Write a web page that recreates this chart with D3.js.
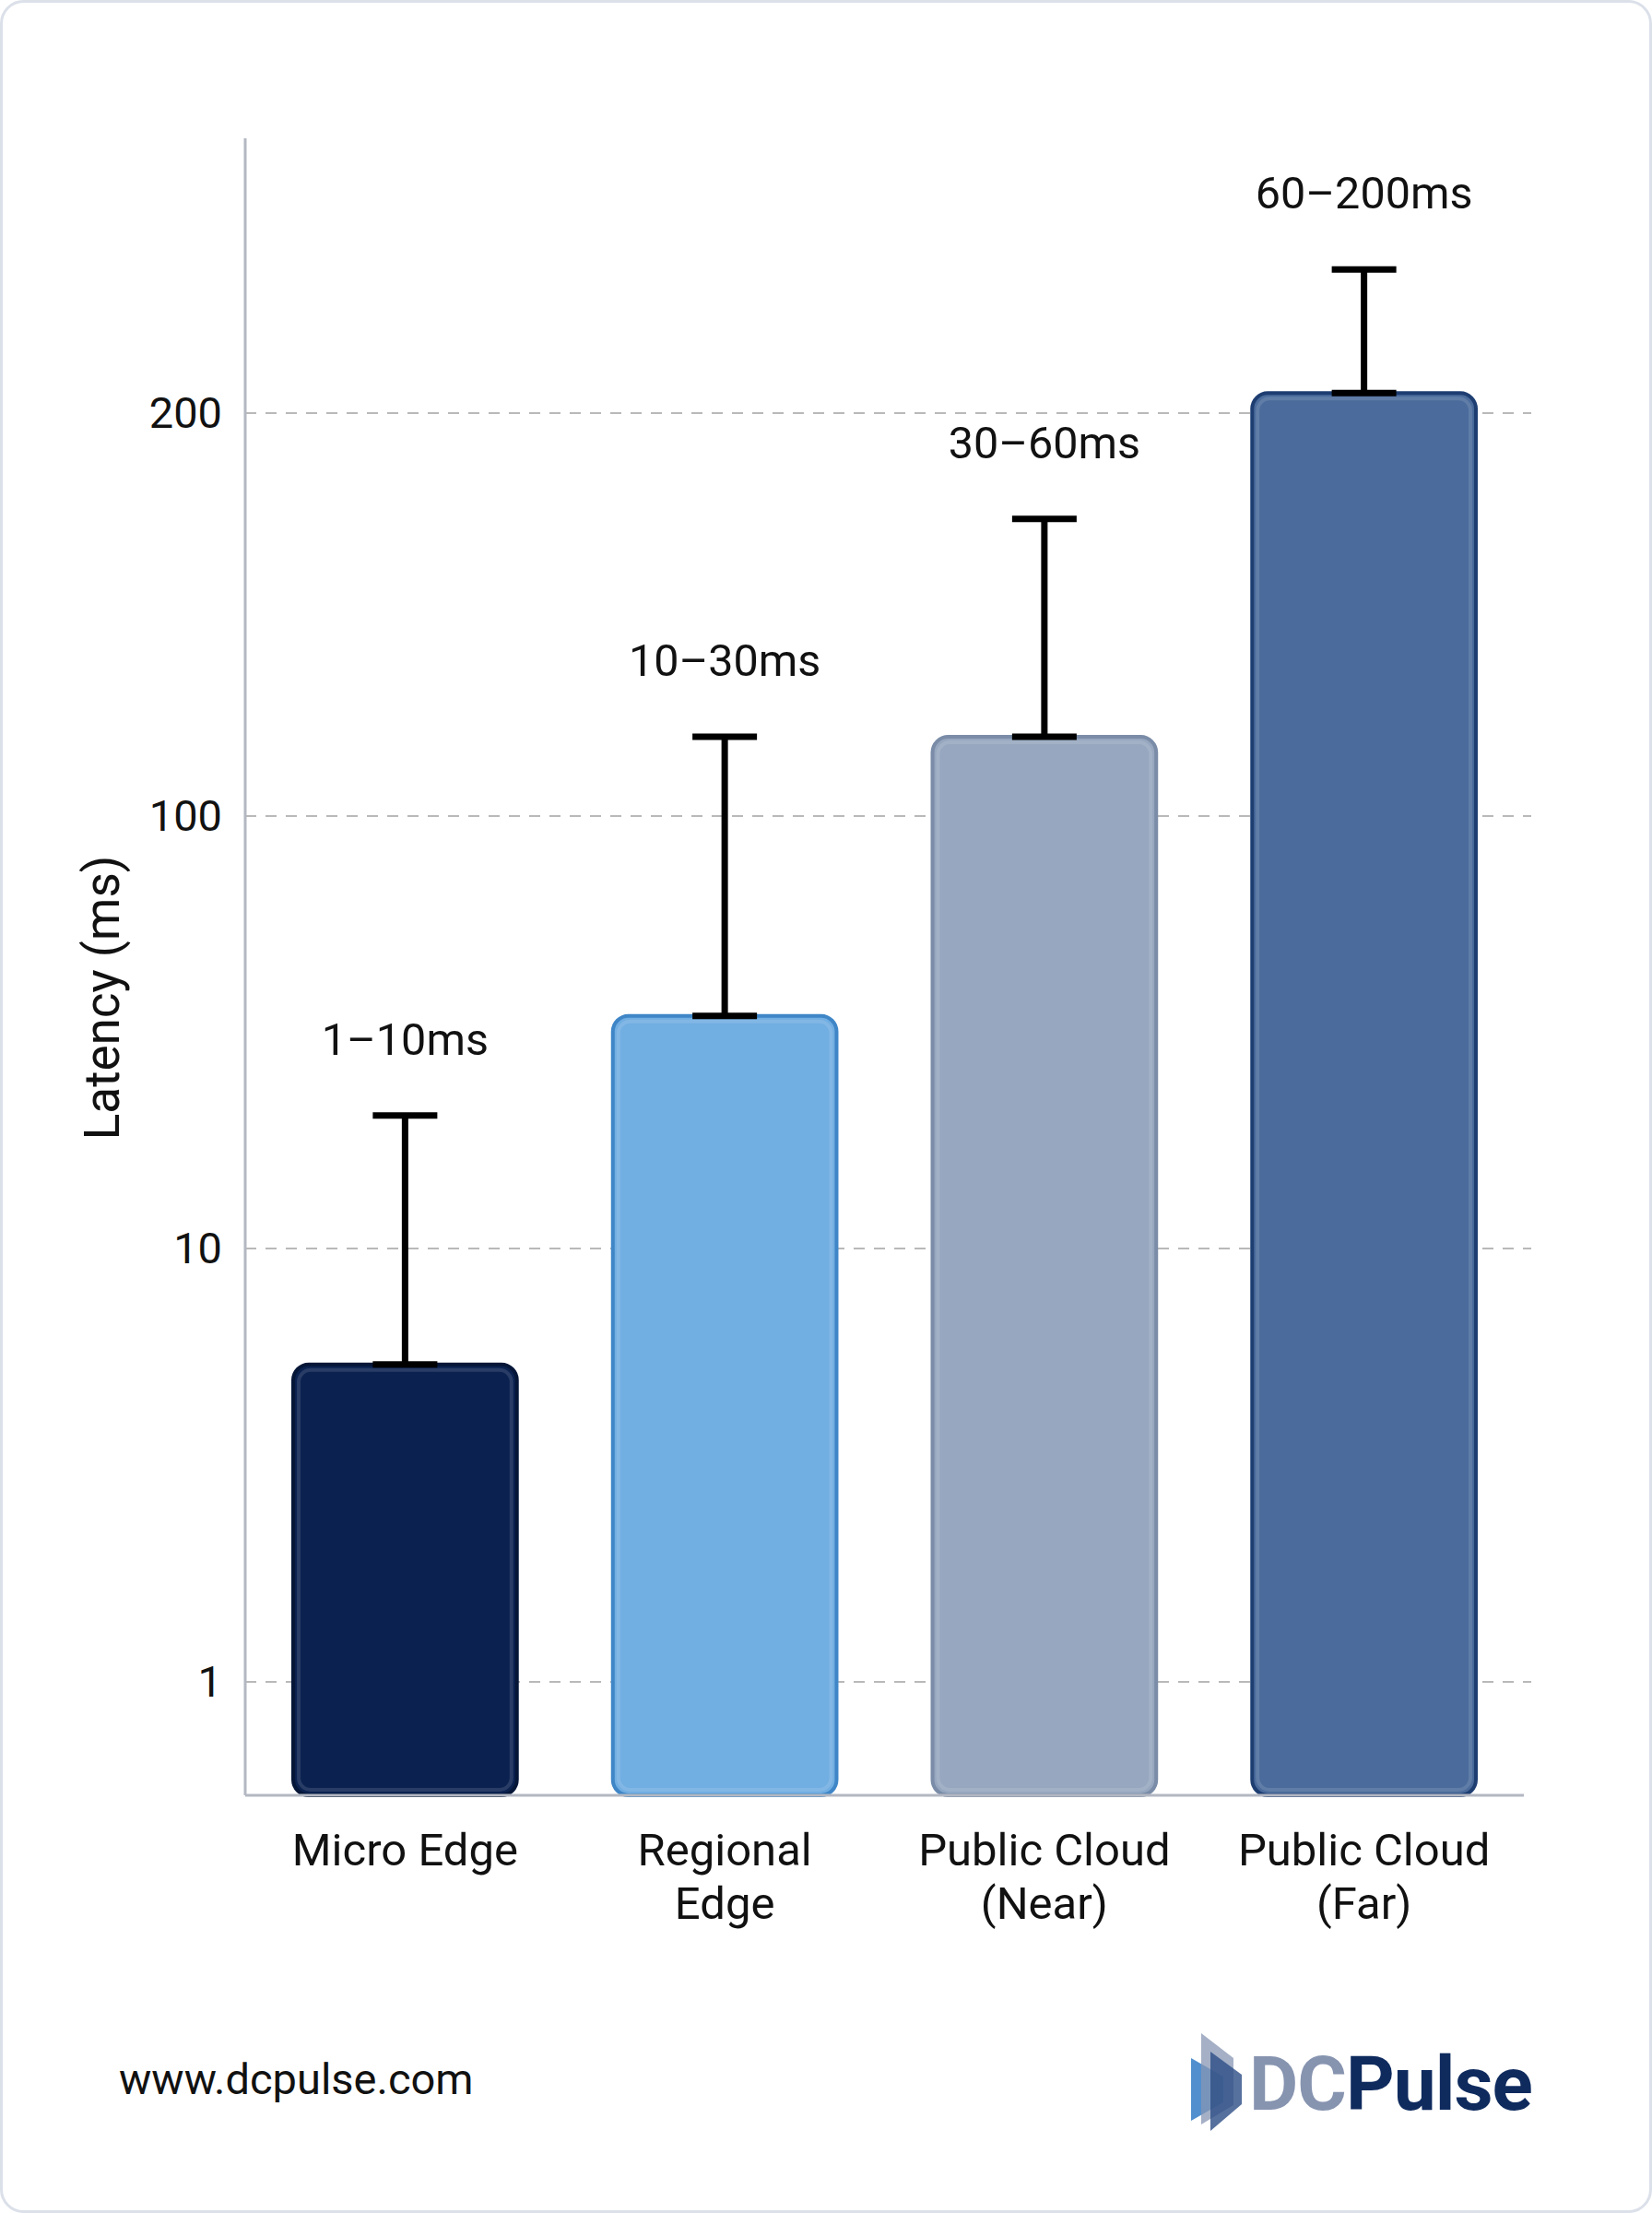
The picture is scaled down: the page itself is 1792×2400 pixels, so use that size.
<!DOCTYPE html>
<html>
<head>
<meta charset="utf-8">
<script src="https://cdn.jsdelivr.net/npm/d3@7"></script>
<style>
    body { margin: 0; background: #ffffff; }
    svg { display: block; font-family: Roboto, "Noto Sans", sans-serif; }
</style>
</head>
<body>
<div id="chart"></div>
<script>
// Categories, split into label lines
var categories = ["Micro Edge", "Regional Edge", "Public Cloud (Near)", "Public Cloud (Far)"];
var categoryLines = [["Micro Edge"], ["Regional", "Edge"], ["Public Cloud", "(Near)"], ["Public Cloud", "(Far)"]];
// Bar value and top of the error whisker (ms)
var barValues = [5.4, 34.5, 114.6, 207];
var upperValues = [20.3, 114.6, 166.7, 256];
var rangeLabels = ["1\u201310ms", "10\u201330ms", "30\u201360ms", "60\u2013200ms"];
var tickValues = [1, 10, 100, 200];
var fillColors = ["#0b2250", "#71aee2", "#96a7bf", "#4a6b9b"];
var strokeColors = ["#051637", "#3f86c7", "#7a8ca7", "#1e3e72"];

var width = 1792,
    height = 2400;
var margin = {top: 150, left: 266, right: 139, bottom: 453};
var plotW = width - margin.left - margin.right;
var plotH = height - margin.top - margin.bottom;

var svg = d3.select("#chart")
    .append("svg")
    .attr("width", width)
    .attr("height", height);

// card outline
svg.append("rect")
    .attr("x", 1.5)
    .attr("y", 1.5)
    .attr("width", width - 3)
    .attr("height", height - 3)
    .attr("rx", 24)
    .attr("fill", "#ffffff")
    .attr("stroke", "#dbe0e9")
    .attr("stroke-width", 3);

var g = svg.append("g")
    .attr("transform", "translate(" + margin.left + "," + margin.top + ")");

var x = d3.scaleBand()
    .domain(categories)
    .range([0, plotW])
    .paddingInner(0.3)
    .paddingOuter(0.15);

// the axis is log per decade, but the 100-200 step is stretched: piecewise log scale
var y = d3.scaleLog()
    .domain(tickValues)
    .range([1674, 1204, 735, 298]);

// gridlines
g.append("g")
    .selectAll("line")
    .data(tickValues)
    .join("line")
    .attr("x1", 0)
    .attr("x2", plotW + 8)
    .attr("y1", function (d) { return y(d); })
    .attr("y2", function (d) { return y(d); })
    .attr("stroke", "#b9b9b9")
    .attr("stroke-width", 2)
    .attr("stroke-dasharray", "12,10");

// y tick labels
g.append("g")
    .selectAll("text")
    .data(tickValues)
    .join("text")
    .attr("x", -25)
    .attr("y", function (d) { return y(d); })
    .attr("dy", "0.35em")
    .attr("text-anchor", "end")
    .style("font-size", "47px")
    .attr("fill", "#111")
    .text(function (d) { return d; });

// bars
var bars = g.append("g")
    .selectAll("g")
    .data(categories)
    .join("g");

bars.append("rect")
    .attr("x", function (d) { return x(d); })
    .attr("y", function (d, i) { return y(barValues[i]); })
    .attr("width", x.bandwidth())
    .attr("height", function (d, i) { return plotH - y(barValues[i]); })
    .attr("rx", 17)
    .attr("fill", function (d, i) { return fillColors[i]; })
    .attr("stroke", function (d, i) { return strokeColors[i]; })
    .attr("stroke-width", 4);

// soft inner highlight
bars.append("rect")
    .attr("x", function (d) { return x(d) + 6; })
    .attr("y", function (d, i) { return y(barValues[i]) + 6; })
    .attr("width", x.bandwidth() - 12)
    .attr("height", function (d, i) { return plotH - y(barValues[i]) - 12; })
    .attr("rx", 13)
    .attr("fill", "none")
    .attr("stroke", "#ffffff")
    .attr("stroke-opacity", 0.12)
    .attr("stroke-width", 4);

// error whiskers
var capW = 70;
bars.append("line")
    .attr("x1", function (d) { return x(d) + x.bandwidth() / 2; })
    .attr("x2", function (d) { return x(d) + x.bandwidth() / 2; })
    .attr("y1", function (d, i) { return y(barValues[i]); })
    .attr("y2", function (d, i) { return y(upperValues[i]); })
    .attr("stroke", "#000")
    .attr("stroke-width", 7);

bars.selectAll(".cap")
    .data(function (d, i) { return [{c: d, v: barValues[i]}, {c: d, v: upperValues[i]}]; })
    .join("line")
    .attr("class", "cap")
    .attr("x1", function (d) { return x(d.c) + x.bandwidth() / 2 - capW / 2; })
    .attr("x2", function (d) { return x(d.c) + x.bandwidth() / 2 + capW / 2; })
    .attr("y1", function (d) { return y(d.v); })
    .attr("y2", function (d) { return y(d.v); })
    .attr("stroke", "#000")
    .attr("stroke-width", 7);

// range labels above whiskers
bars.append("text")
    .attr("x", function (d) { return x(d) + x.bandwidth() / 2; })
    .attr("y", function (d, i) { return y(upperValues[i]) - 66; })
    .attr("text-anchor", "middle")
    .style("font-size", "48.5px")
    .attr("fill", "#111")
    .text(function (d, i) { return rangeLabels[i]; });

// axis lines
g.append("line")
    .attr("x1", 0)
    .attr("x2", 0)
    .attr("y1", 0)
    .attr("y2", plotH)
    .attr("stroke", "#b3b8c2")
    .attr("stroke-width", 3);
g.append("line")
    .attr("x1", 0)
    .attr("x2", plotW)
    .attr("y1", plotH)
    .attr("y2", plotH)
    .attr("stroke", "#b3b8c2")
    .attr("stroke-width", 3);

// x category labels
g.append("g")
    .selectAll("text")
    .data(categories)
    .join("text")
    .attr("text-anchor", "middle")
    .style("font-size", "49px")
    .attr("fill", "#111")
    .each(function (d, i) {
        var t = d3.select(this);
        categoryLines[i].forEach(function (line, k) {
            t.append("tspan")
                .attr("x", x(d) + x.bandwidth() / 2)
                .attr("y", plotH + 76 + k * 58)
                .text(line);
        });
    });

// y title
svg.append("text")
    .attr("transform", "translate(129," + (margin.top + 932) + ") rotate(-90)")
    .attr("text-anchor", "middle")
    .style("font-size", "53px")
    .attr("fill", "#111")
    .text("Latency (ms)");

// footer
svg.append("text")
    .attr("x", 129)
    .attr("y", 2271)
    .style("font-size", "47px")
    .attr("fill", "#111")
    .text("www.dcpulse.com");

// logo mark: three stacked slanted panels
var logo = svg.append("g");
var panels = [
    {pts: [[1292, 2232], [1327, 2252], [1327, 2280], [1292, 2300]], c: "#3f83c9", o: 0.9},
    {pts: [[1303, 2205], [1338, 2232], [1338, 2283], [1303, 2304]], c: "#8796b3", o: 0.75},
    {pts: [[1313, 2225], [1347, 2250], [1347, 2282], [1313, 2311]], c: "#2d4d86", o: 0.8}
];
logo.selectAll("polygon")
    .data(panels)
    .join("polygon")
    .attr("points", function (d) { return d.pts.join(" "); })
    .attr("fill", function (d) { return d.c; })
    .attr("fill-opacity", function (d) { return d.o; });

var logoText = logo.append("text")
    .attr("x", 1355)
    .attr("y", 2288)
    .style("font-size", "82px")
    .style("font-weight", "700")
    .style("letter-spacing", "-1px");
logoText.append("tspan")
    .attr("fill", "#8794b0")
    .text("DC");
logoText.append("tspan")
    .attr("fill", "#0f2b5e")
    .text("Pulse");
</script>
</body>
</html>
